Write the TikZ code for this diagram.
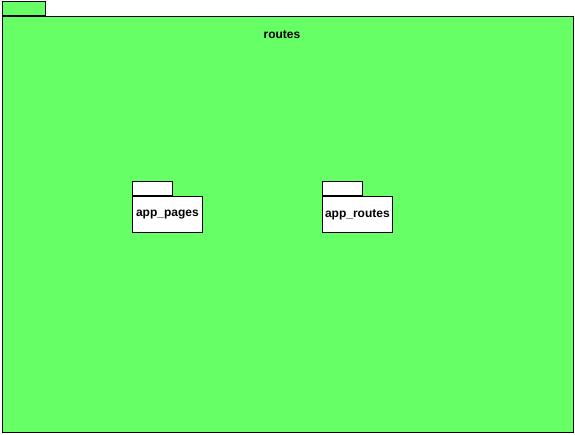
\documentclass[tikz,border=0pt]{standalone}
\usepackage{fontspec}
\setmainfont{Liberation Sans}
\usetikzlibrary{positioning}
\definecolor{pkggreen}{HTML}{66FF66}
\tikzset{
  pkgbody/.style={draw, line width=0.8pt, anchor=north west, inner sep=0pt, minimum width=#1},
  pkgtab/.style={draw, line width=0.8pt, anchor=south west, inner sep=0pt, minimum height=14pt, minimum width=#1},
  pkglabel/.style={font=\fontsize{12}{14}\selectfont\bfseries, inner sep=0pt}
}
\begin{document}
\begin{tikzpicture}[x=1pt, y=-1pt]
  \useasboundingbox (0,0) rectangle (575,435);
  % outer package
  \node[pkgbody=571pt, minimum height=416pt, fill=pkggreen] (routes) at (2,16) {};
  \node[pkgtab=43pt, fill=pkggreen] (routestab) at (routes.north west) {};
  \node[pkglabel] (routeslabel) at (282,35) {routes};
  % inner packages
  \node[pkgbody=70pt, minimum height=36pt, fill=white] (pages) at (132,196) {};
  \node[pkgtab=40pt, fill=white] (pagestab) at (pages.north west) {};
  \node[pkglabel] at (pages) {app\_pages};
  \node[pkgbody=70pt, minimum height=36pt, fill=white] (approutes) at (322,196) {};
  \node[pkgtab=40pt, fill=white] (approutestab) at (approutes.north west) {};
  \node[pkglabel] at (approutes) {app\_routes};
\end{tikzpicture}
\end{document}
